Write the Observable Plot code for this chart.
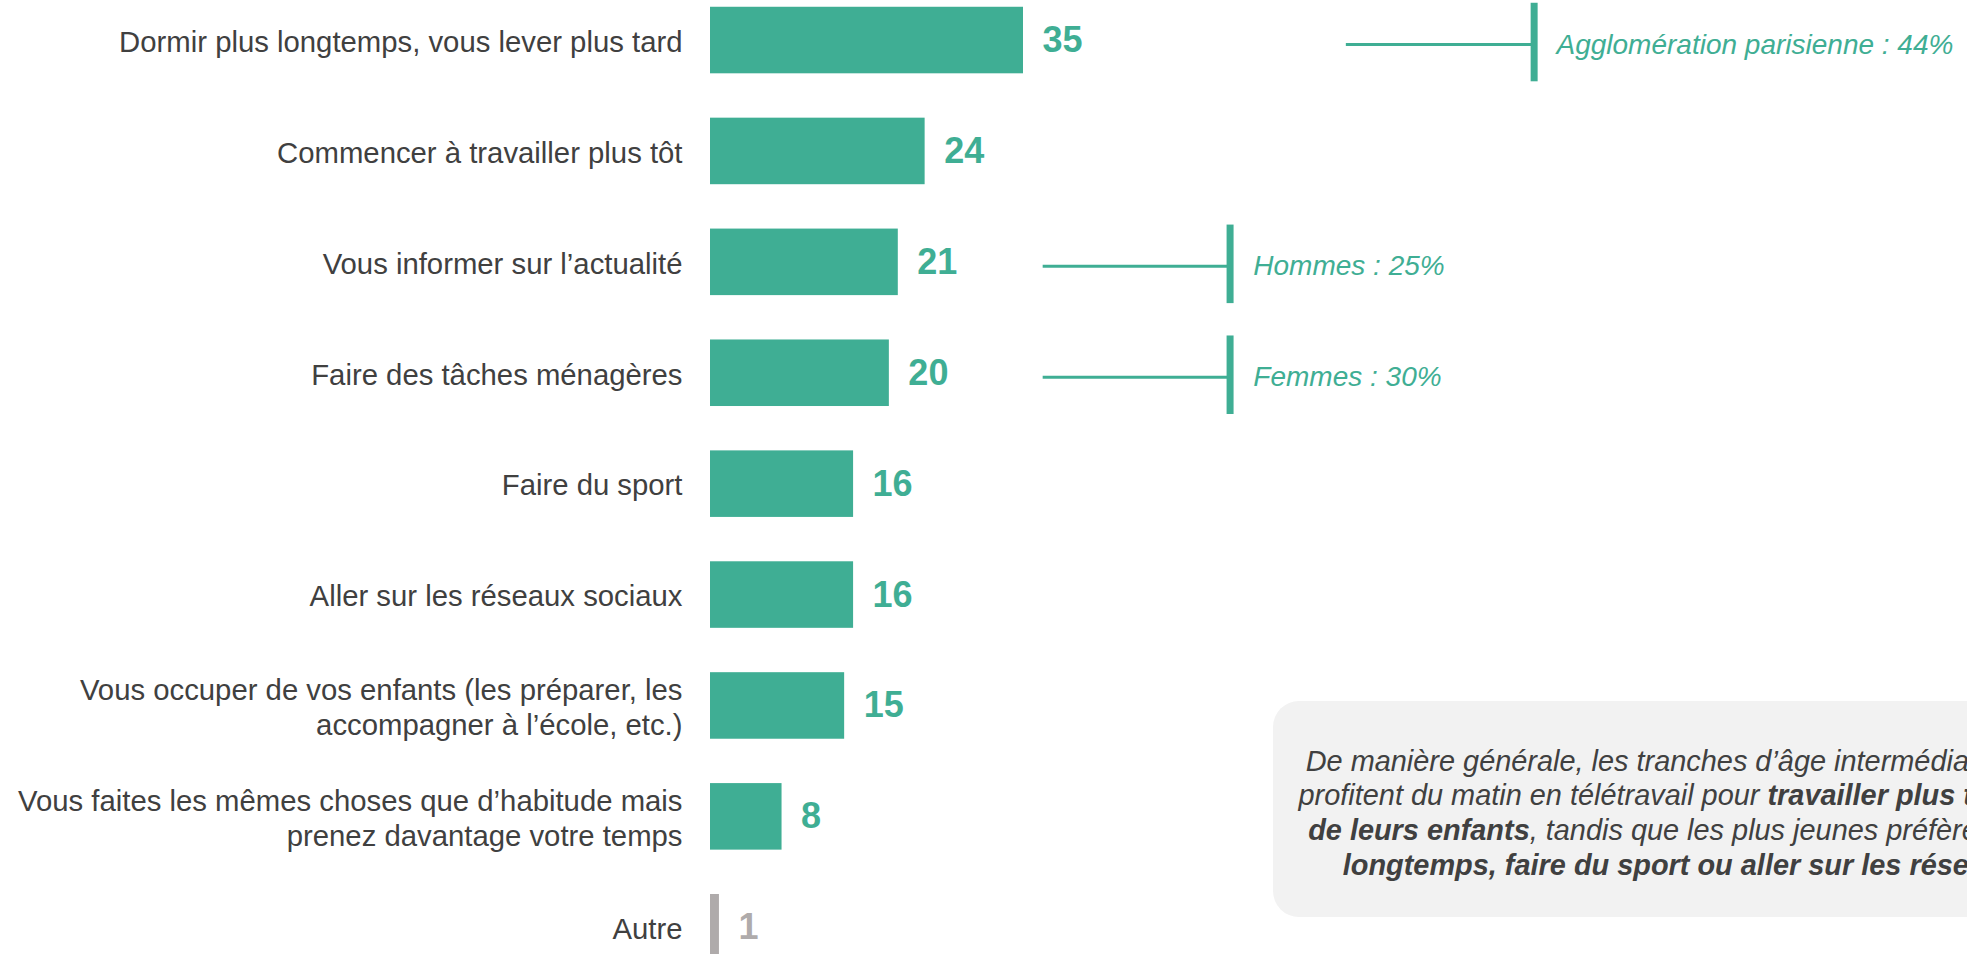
<!DOCTYPE html>
<html>
<head>
<meta charset="utf-8">
<script src="https://cdn.jsdelivr.net/npm/d3@7"></script>
<script src="https://cdn.jsdelivr.net/npm/@observablehq/plot@0.6"></script>
<style>
  html, body { margin: 0; padding: 0; background: #ffffff; overflow: hidden; }
  #wrap { position: relative; width: 1967px; height: 954px; }
  #note {
    position: absolute; left: 1273px; top: 701px; width: 931px; height: 216px;
    box-sizing: border-box; padding-top: 8px;
    background: #f2f2f2; border-radius: 26px;
    display: flex; flex-direction: column; justify-content: center; align-items: center;
    font-family: "Liberation Sans", Arial, sans-serif; font-style: italic;
    font-size: 28.9px; line-height: 34.6px; color: #404040; text-align: center;
  }
  #note div { white-space: nowrap; }
</style>
</head>
<body>
<div id="wrap"></div>
<script>
// ---- Data ----
const categories = [
  "Dormir plus longtemps, vous lever plus tard",
  "Commencer à travailler plus tôt",
  "Vous informer sur l’actualité",
  "Faire des tâches ménagères",
  "Faire du sport",
  "Aller sur les réseaux sociaux",
  "Vous occuper de vos enfants (les préparer, les\naccompagner à l’école, etc.)",
  "Vous faites les mêmes choses que d’habitude mais\nprenez davantage votre temps",
  "Autre"
];
const values = [35, 24, 21, 20, 16, 16, 15, 8, 1];

const annotationRows = [
  "Dormir plus longtemps, vous lever plus tard",
  "Vous informer sur l’actualité",
  "Faire des tâches ménagères"
];
const annotationTexts = ["Agglomération parisienne : 44%", "Hommes : 25%", "Femmes : 30%"];
const annotationGroups = ["far", "near", "near"];

const noteLines = [
  "De manière générale, les tranches d’âge intermédiaires (25-49 ans)",
  "profitent du matin en télétravail pour <b>travailler plus tôt et s’occuper</b>",
  "<b>de leurs enfants</b>, tandis que les plus jeunes préfèrent <b>dormir plus</b>",
  "<b>longtemps, faire du sport ou aller sur les réseaux sociaux</b>"
];

// ---- Styles / layout ----
const TEAL = "#3FAE94";
const GREY = "#AFABAB";
const TEXT = "#404040";
const FONT = "'Liberation Sans', Arial, Helvetica, sans-serif";
const annoLayout = {
  far:  {x1: 71.1, x2: 92.1, tick: 92.1, text: 94.6},
  near: {x1: 37.2, x2: 58.1, tick: 58.1, text: 60.7}
};

const rows = categories.map((c, i) => ({category: c, value: values[i]}));
const annotations = annotationRows.map((r, i) => ({category: r, text: annotationTexts[i], group: annotationGroups[i]}));
const colorOf = d => d.category === "Autre" ? GREY : TEAL;

const chart = Plot.plot({
  width: 1967,
  height: 954,
  margin: 0,
  x: {domain: [0, 35], range: [710, 1023], axis: null},
  y: {domain: categories, range: [-37.6, 1004.9], padding: 0.4, round: false, axis: null},
  color: {type: "identity"},
  style: {fontFamily: FONT, background: "#ffffff", overflow: "visible"},
  marks: [
    Plot.barX(rows, {x: "value", y: "category", fill: colorOf}),
    Plot.text(rows, {
      x: 0, y: "category", text: "category", textAnchor: "end", dx: -28,
      fontSize: 29.3, fill: TEXT, lineHeight: 1.2
    }),
    Plot.text(rows, {
      x: "value", y: "category", text: d => String(d.value), textAnchor: "start", dx: 19,
      fontSize: 36, fontWeight: "bold", fill: colorOf
    }),
    Plot.ruleY(annotations, {
      y: "category", x1: d => annoLayout[d.group].x1, x2: d => annoLayout[d.group].x2,
      stroke: TEAL, strokeWidth: 3, dy: 4
    }),
    Plot.tickX(annotations, {
      x: d => annoLayout[d.group].tick, y: "category",
      stroke: TEAL, strokeWidth: 7, insetTop: -4, insetBottom: -8
    }),
    Plot.text(annotations, {
      x: d => annoLayout[d.group].text, y: "category", text: "text", textAnchor: "start",
      fontSize: 28, fontStyle: "italic", fill: TEAL, dy: 4
    })
  ]
});

const wrap = document.getElementById("wrap");
wrap.appendChild(chart);
const note = document.createElement("div");
note.id = "note";
note.innerHTML = noteLines.map(l => `<div>${l}</div>`).join("");
wrap.appendChild(note);
</script>
</body>
</html>
